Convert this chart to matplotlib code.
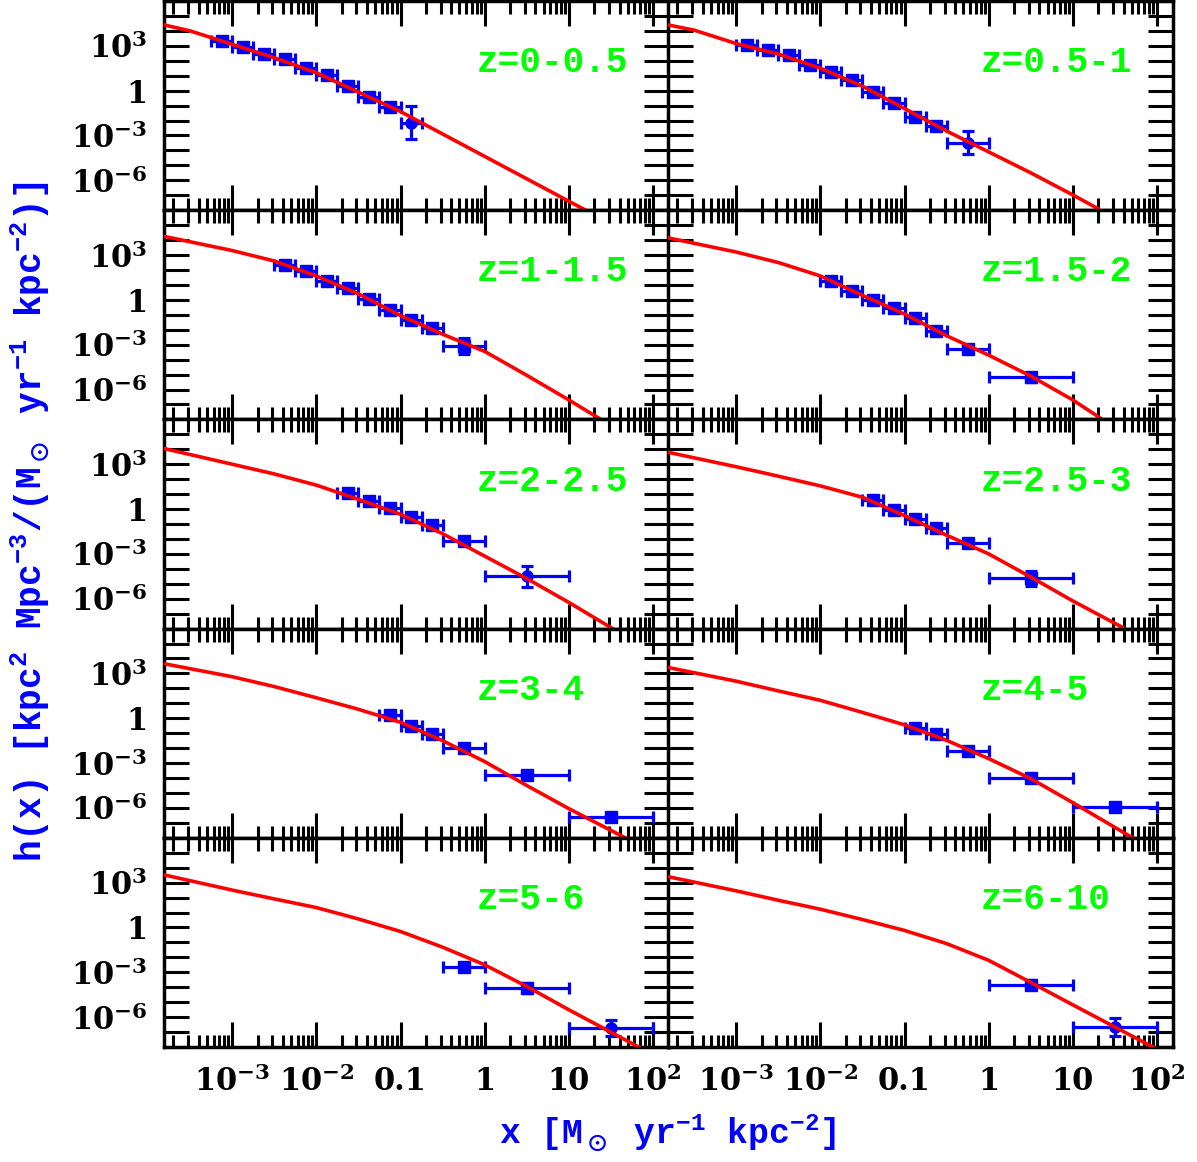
import numpy as np
import matplotlib.pyplot as plt

plt.rcParams['font.family'] = ['DejaVu Serif']
plt.rcParams['font.weight'] = 'bold'
plt.rcParams['mathtext.default'] = 'regular'

# panel labels (left column first, row by row)
z_labels = ['z=0-0.5', 'z=0.5-1', 'z=1-1.5', 'z=1.5-2', 'z=2-2.5',
            'z=2.5-3', 'z=3-4', 'z=4-5', 'z=5-6', 'z=6-10']

# red model curves, log10(x) and log10(h)
fit_logx = [
    [-3.81, -3.5, -3.0, -2.5, -2.0, -1.5, -1.0, -0.5, 0.0, 0.5, 1.2],
    [-3.81, -3.5, -3.0, -2.5, -2.0, -1.5, -1.0, -0.5, 0.0, 0.5, 1.0, 1.3],
    [-3.81, -3.0, -2.5, -2.0, -1.5, -1.0, -0.5, 0.0, 0.5, 1.0, 1.38],
    [-3.81, -3.0, -2.5, -2.0, -1.5, -1.0, -0.5, 0.0, 0.5, 1.0, 1.35],
    [-3.81, -3.0, -2.5, -2.0, -1.5, -1.0, -0.5, 0.0, 0.5, 1.0, 1.52],
    [-3.81, -3.0, -2.5, -2.0, -1.5, -1.0, -0.5, 0.0, 0.5, 1.0, 1.6],
    [-3.81, -3.0, -2.5, -2.0, -1.5, -1.0, -0.5, 0.0, 0.5, 1.0, 1.67],
    [-3.81, -3.0, -2.5, -2.0, -1.5, -1.0, -0.5, 0.0, 0.5, 1.0, 1.71],
    [-3.81, -3.0, -2.5, -2.0, -1.5, -1.0, -0.5, 0.0, 0.5, 1.0, 1.83],
    [-3.81, -3.0, -2.5, -2.0, -1.5, -1.0, -0.5, 0.0, 0.5, 1.0, 1.95],
]
fit_logh = [
    [4.4, 4.0, 3.1, 2.2, 1.2, -0.1, -1.4, -2.9, -4.4, -5.9, -8.0],
    [4.4, 4.05, 3.15, 2.45, 1.5, 0.3, -1.2, -2.7, -4.1, -5.5, -6.98, -7.9],
    [4.25, 3.3, 2.6, 1.6, 0.4, -1.05, -2.3, -3.45, -5.05, -6.7, -8.0],
    [4.15, 3.2, 2.5, 1.6, 0.3, -0.95, -2.4, -3.7, -5.1, -6.7, -8.0],
    [4.05, 3.0, 2.35, 1.6, 0.65, -0.35, -1.65, -3.15, -4.65, -6.25, -8.0],
    [3.8, 2.83, 2.2, 1.55, 0.79, -0.44, -1.75, -3.0, -4.55, -6.15, -7.95],
    [3.65, 2.78, 2.12, 1.37, 0.6, -0.27, -1.5, -2.9, -4.5, -6.05, -8.0],
    [3.4, 2.48, 1.83, 1.2, 0.39, -0.44, -1.48, -2.7, -4.04, -5.65, -8.0],
    [3.52, 2.5, 1.91, 1.33, 0.57, -0.27, -1.32, -2.5, -3.95, -5.51, -8.0],
    [3.4, 2.45, 1.82, 1.22, 0.53, -0.2, -1.08, -2.2, -3.68, -5.18, -8.0],
]

# blue data points: bin centre log10(x), log10(h), half bin width, vertical error (dex)
pts_logx = [
    [-3.125, -2.875, -2.625, -2.375, -2.125, -1.875, -1.625, -1.375, -1.125, -0.875],
    [-2.875, -2.625, -2.375, -2.125, -1.875, -1.625, -1.375, -1.125, -0.875, -0.625, -0.25],
    [-2.375, -2.125, -1.875, -1.625, -1.375, -1.125, -0.875, -0.625, -0.25],
    [-1.875, -1.625, -1.375, -1.125, -0.875, -0.625, -0.25, 0.5],
    [-1.625, -1.375, -1.125, -0.875, -0.625, -0.25, 0.5],
    [-1.375, -1.125, -0.875, -0.625, -0.25, 0.5],
    [-1.125, -0.875, -0.625, -0.25, 0.5, 1.5],
    [-0.875, -0.625, -0.25, 0.5, 1.5],
    [-0.25, 0.5, 1.5],
    [0.5, 1.5],
]
pts_logh = [
    [3.32, 2.92, 2.45, 2.12, 1.52, 1.05, 0.31, -0.42, -1.09, -2.16],
    [3.05, 2.72, 2.39, 1.72, 1.25, 0.71, -0.09, -0.83, -1.76, -2.37, -3.5],
    [2.32, 1.92, 1.25, 0.78, 0.04, -0.69, -1.36, -1.9, -3.1],
    [1.25, 0.58, -0.02, -0.56, -1.23, -2.1, -3.3, -5.18],
    [1.05, 0.51, 0.04, -0.56, -1.09, -2.17, -4.51],
    [0.58, -0.09, -0.69, -1.3, -2.3, -4.64],
    [0.24, -0.49, -1.03, -1.97, -3.77, -6.58],
    [-0.63, -1.03, -2.17, -3.97, -5.91],
    [-2.63, -4.04, -6.72],
    [-3.84, -6.65],
]
pts_dx = [
    [0.125] * 10,
    [0.125] * 10 + [0.25],
    [0.125] * 8 + [0.25],
    [0.125] * 6 + [0.25, 0.5],
    [0.125] * 5 + [0.25, 0.5],
    [0.125] * 4 + [0.25, 0.5],
    [0.125] * 3 + [0.25, 0.5, 0.5],
    [0.125, 0.125, 0.25, 0.5, 0.5],
    [0.25, 0.5, 0.5],
    [0.5, 0.5],
]
pts_dh = [
    [0.15] * 9 + [1.1],
    [0.15] * 10 + [0.77],
    [0.15] * 8 + [0.55],
    [0.15] * 7 + [0.3],
    [0.15] * 6 + [0.7],
    [0.15] * 5 + [0.5],
    [0.15] * 6,
    [0.15] * 5,
    [0.15, 0.35, 0.55],
    [0.3, 0.6],
]
# points drawn as filled circles instead of squares
pts_round = [[9], [10], [], [], [6], [], [], [], [2], [1]]

x_tick_vals = [1e-3, 1e-2, 0.1, 1, 10, 100]
x_tick_text = ['10$^{-3}$', '10$^{-2}$', '0.1', '1', '10', '10$^2$']
y_tick_vals = [1e3, 1, 1e-3, 1e-6]
y_tick_text = ['10$^3$', '1', '10$^{-3}$', '10$^{-6}$']

W, H = 1197, 1162
fig = plt.figure(figsize=(W / 100, H / 100), dpi=100)

col_left = [164, 668]
col_w = 505
row_top = 1
row_h = 209.2

for i in range(10):
    r, c = i // 2, i % 2
    top = row_top + r * row_h
    ax = fig.add_axes([col_left[c] / W, 1 - (top + row_h) / H, col_w / W, row_h / H])
    ax.set_xscale('log')
    ax.set_yscale('log')
    ax.set_xlim(10 ** -3.81, 10 ** 2.19)
    ax.set_ylim(1e-8, 1e6)

    fx = 10 ** np.array(fit_logx[i])
    fy = 10 ** np.array(fit_logh[i])
    ax.plot(fx, fy, color='red', lw=2.6, zorder=3)

    lx = np.array(pts_logx[i])
    ly = np.array(pts_logh[i])
    dx = np.array(pts_dx[i])
    dh = np.array(pts_dh[i])
    x = 10 ** lx
    y = 10 ** ly
    xerr = [x - 10 ** (lx - dx), 10 ** (lx + dx) - x]
    yerr = [y - 10 ** (ly - dh), 10 ** (ly + dh) - y]
    for j in range(len(lx)):
        mk = 'o' if j in pts_round[i] else 's'
        ax.errorbar(x[j], y[j], xerr=[[xerr[0][j]], [xerr[1][j]]],
                    yerr=[[yerr[0][j]], [yerr[1][j]]], fmt=mk, color='blue',
                    ms=8, elinewidth=2.3, capsize=4, capthick=2.3, zorder=2)

    ax.text(0.62, 0.705, z_labels[i], transform=ax.transAxes, color='#00ff00',
            fontsize=26, fontfamily='Liberation Mono', fontweight='bold',
            ha='left', va='center')

    # ticks
    ax.set_xticks(x_tick_vals)
    ax.set_xticklabels(x_tick_text)
    ax.xaxis.set_minor_locator(plt.matplotlib.ticker.LogLocator(base=10, subs=np.arange(2, 10), numticks=20))
    ax.xaxis.set_minor_formatter(plt.NullFormatter())
    decades = [10.0 ** k for k in range(-8, 7)]
    ax.set_yticks(decades)
    ax.set_yticklabels([y_tick_text[y_tick_vals.index(d)] if d in y_tick_vals else '' for d in decades])
    ax.yaxis.set_minor_locator(plt.NullLocator())
    ax.tick_params(which='both', direction='in', top=True, right=True, width=2.2,
                   labelsize=22, color='black')
    ax.tick_params(which='major', length=18)
    ax.tick_params(which='minor', length=9)
    ax.tick_params(axis='x', pad=14)
    ax.tick_params(axis='y', pad=12)
    if c == 1:
        ax.tick_params(labelleft=False)
    if r < 4:
        ax.tick_params(labelbottom=False)
    for s in ax.spines.values():
        s.set_linewidth(2.5)

fig.text(668 / W, 1 - 1133 / H, r'x [M$_\odot$ yr$^{-1}$ kpc$^{-2}$]', color='blue',
         fontsize=25, fontfamily='Liberation Mono', fontweight='bold', ha='center', va='center')
fig.text(30 / W, 1 - 522 / H, r'h(x) [kpc$^2$ Mpc$^{-3}$/(M$_\odot$ yr$^{-1}$ kpc$^{-2}$)]',
         color='blue', fontsize=26, fontfamily='Liberation Mono', fontweight='bold',
         ha='center', va='center', rotation=90)

fig.savefig('out.png', dpi=100)
